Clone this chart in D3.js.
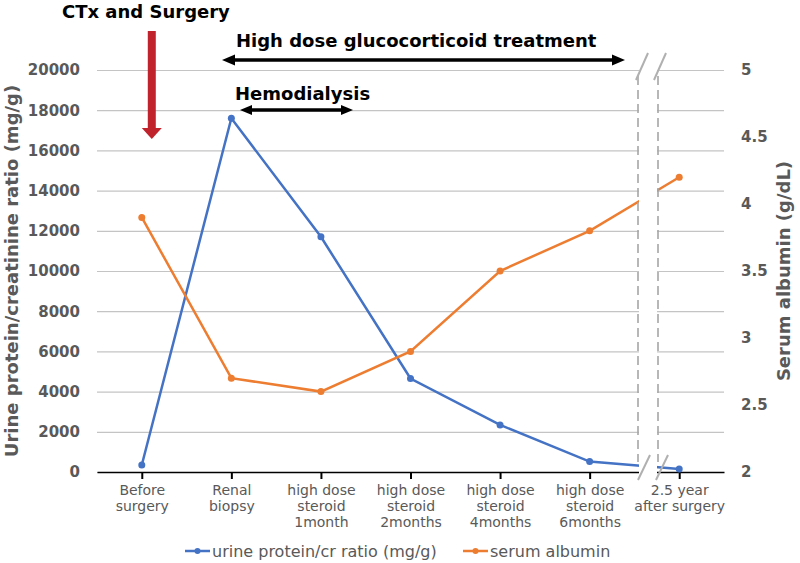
<!DOCTYPE html>
<html>
<head>
<meta charset="utf-8">
<script src="https://cdn.jsdelivr.net/npm/d3@7"></script>
<style>
  body { margin: 0; background: #fff; }
  text { font-family: "DejaVu Sans", sans-serif; }
</style>
</head>
<body>
<script>
// Chart data
var categories = ["Before\nsurgery", "Renal\nbiopsy", "high dose\nsteroid\n1month", "high dose\nsteroid\n2months",
                  "high dose\nsteroid\n4months", "high dose\nsteroid\n6months", "2.5 year\nafter surgery"];
var proteinValues = [350, 17600, 11700, 4650, 2340, 520, 150];
var albuminValues = [3.9, 2.7, 2.6, 2.9, 3.5, 3.8, 4.2];
var leftTicks = [0, 2000, 4000, 6000, 8000, 10000, 12000, 14000, 16000, 18000, 20000];
var rightTicks = [2, 2.5, 3, 3.5, 4, 4.5, 5];

var width = 800;
var height = 563;

// Plot area ("top" is taken by window.top, so prefix these)
var pLeft = 97, pRight = 724, pTop = 70, pBottom = 472;
var grey = "#595959";
var blue = "#4472c4";
var orange = "#ed7d31";

var svg = d3.select("body")
  .append("svg")
  .attr("width", width)
  .attr("height", height);

var x = d3.scalePoint()
  .domain(d3.range(categories.length))
  .range([pLeft, pRight])
  .padding(0.5);

var yL = d3.scaleLinear().domain([0, 20000]).range([pBottom, pTop]);
var yR = d3.scaleLinear().domain([2, 5]).range([pBottom, pTop]);

// Gridlines + left tick labels
var gL = svg.append("g")
  .attr("transform", "translate(" + pLeft + ",0)")
  .call(d3.axisLeft(yL).tickValues(leftTicks).tickFormat(d3.format("d")).tickSize(-(pRight - pLeft)).tickPadding(17));
gL.select(".domain").remove();
gL.selectAll("line").attr("stroke", "#c4c4c4").attr("stroke-width", 1.2);
gL.selectAll("text")
  .attr("fill", grey)
  .attr("font-family", "DejaVu Sans")
  .attr("font-weight", "bold")
  .attr("font-size", "15px");

// Right tick labels
var gR = svg.append("g")
  .attr("transform", "translate(" + pRight + ",0)")
  .call(d3.axisRight(yR).tickValues(rightTicks).tickFormat(d3.format("")).tickSize(0).tickPadding(17));
gR.select(".domain").remove();
gR.selectAll("text")
  .attr("fill", grey)
  .attr("font-family", "DejaVu Sans")
  .attr("font-weight", "bold")
  .attr("font-size", "15px");

// Bottom axis
var gB = svg.append("g")
  .attr("transform", "translate(0," + pBottom + ")")
  .call(d3.axisBottom(x).tickSize(7).tickSizeOuter(0).tickFormat(""));
gB.select(".domain").attr("stroke", "#000").attr("stroke-width", 1.6);
gB.selectAll("line").attr("stroke", "#000").attr("stroke-width", 2);

// Category labels, multi-line
gB.selectAll(".tick").each(function(d) {
  var t = d3.select(this).select("text")
    .attr("y", 23)
    .attr("fill", grey)
    .attr("font-family", "DejaVu Sans")
    .attr("font-size", "14px");
  categories[d].split("\n").forEach(function(line, i) {
    t.append("tspan").attr("x", 0).attr("dy", i == 0 ? 0 : 16).text(line);
  });
});
gB.selectAll("text").attr("dy", null);

// Data lines
var lineL = d3.line().x(function(d, i) { return x(i); }).y(function(d) { return yL(d); });
var lineR = d3.line().x(function(d, i) { return x(i); }).y(function(d) { return yR(d); });

svg.append("path")
  .datum(proteinValues)
  .attr("d", lineL)
  .attr("fill", "none")
  .attr("stroke", blue)
  .attr("stroke-width", 2.5);

svg.append("path")
  .datum(albuminValues)
  .attr("d", lineR)
  .attr("fill", "none")
  .attr("stroke", orange)
  .attr("stroke-width", 2.5);

// Axis break between last two categories
var b1 = 638, b2 = 658;
svg.append("rect")
  .attr("x", b1 + 1).attr("y", 50)
  .attr("width", b2 - b1 - 2).attr("height", 432)
  .attr("fill", "#fff");

[b1, b2].forEach(function(bx) {
  svg.append("line")
    .attr("x1", bx).attr("x2", bx)
    .attr("y1", 76).attr("y2", 462)
    .attr("stroke", "#a6a6a6")
    .attr("stroke-width", 1.6)
    .attr("stroke-dasharray", "9,5");
});

[[636, 80, 648, 53], [654, 80, 666, 53], [638, 480, 650, 455], [656, 480, 668, 455]].forEach(function(s) {
  svg.append("line")
    .attr("x1", s[0]).attr("y1", s[1])
    .attr("x2", s[2]).attr("y2", s[3])
    .attr("stroke", "#b0b0b0")
    .attr("stroke-width", 2);
});

// Markers
svg.selectAll("circle.protein")
  .data(proteinValues)
  .enter()
  .append("circle")
  .attr("class", "protein")
  .attr("cx", function(d, i) { return x(i); })
  .attr("cy", function(d) { return yL(d); })
  .attr("r", 3.5)
  .attr("fill", blue);

svg.selectAll("circle.albumin")
  .data(albuminValues)
  .enter()
  .append("circle")
  .attr("class", "albumin")
  .attr("cx", function(d, i) { return x(i); })
  .attr("cy", function(d) { return yR(d); })
  .attr("r", 3.5)
  .attr("fill", orange);

// Axis titles
svg.append("text")
  .attr("transform", "translate(18," + ((pTop + pBottom) / 2) + ") rotate(-90)")
  .attr("text-anchor", "middle")
  .attr("fill", grey)
  .attr("font-weight", "bold")
  .attr("font-size", "18px")
  .text("Urine protein/creatinine ratio (mg/g)");

svg.append("text")
  .attr("transform", "translate(790," + ((pTop + pBottom) / 2) + ") rotate(-90)")
  .attr("text-anchor", "middle")
  .attr("fill", grey)
  .attr("font-weight", "bold")
  .attr("font-size", "18px")
  .text("Serum albumin (g/dL)");

// Annotations
svg.append("text")
  .attr("x", 62).attr("y", 18)
  .attr("font-weight", "bold")
  .attr("font-size", "18px")
  .attr("fill", "#000")
  .text("CTx and Surgery");

var redX = x(0) + 10;
svg.append("rect")
  .attr("x", redX - 4).attr("y", 31)
  .attr("width", 8).attr("height", 98)
  .attr("fill", "#c0232c");
svg.append("path")
  .attr("d", "M" + (redX - 10) + ",128 L" + (redX + 10) + ",128 L" + redX + ",139 Z")
  .attr("fill", "#c0232c");

function doubleArrow(x1, x2, y, head, half) {
  svg.append("line")
    .attr("x1", x1 + head - 2).attr("x2", x2 - head + 2)
    .attr("y1", y).attr("y2", y)
    .attr("stroke", "#000")
    .attr("stroke-width", 3.5);
  svg.append("path")
    .attr("d", "M" + x1 + "," + y + " L" + (x1 + head) + "," + (y - half) + " L" + (x1 + head) + "," + (y + half) + " Z")
    .attr("fill", "#000");
  svg.append("path")
    .attr("d", "M" + x2 + "," + y + " L" + (x2 - head) + "," + (y - half) + " L" + (x2 - head) + "," + (y + half) + " Z")
    .attr("fill", "#000");
}

svg.append("text")
  .attr("x", 236).attr("y", 47)
  .attr("font-weight", "bold")
  .attr("font-size", "18px")
  .attr("fill", "#000")
  .text("High dose glucocorticoid treatment");
doubleArrow(222, 625, 60, 13, 5.5);

svg.append("text")
  .attr("x", 235).attr("y", 100)
  .attr("font-weight", "bold")
  .attr("font-size", "18px")
  .attr("fill", "#000")
  .text("Hemodialysis");
doubleArrow(240, 353, 110, 12, 5);

// Legend
var legend = [["urine protein/cr ratio (mg/g)", blue, 185], ["serum albumin", orange, 463]];
legend.forEach(function(l) {
  var g = svg.append("g").attr("transform", "translate(" + l[2] + ",551)");
  g.append("line").attr("x1", 0).attr("x2", 25).attr("stroke", l[1]).attr("stroke-width", 2.5);
  g.append("circle").attr("cx", 12.5).attr("r", 3).attr("fill", l[1]);
  g.append("text")
    .attr("x", 27).attr("y", 6)
    .attr("fill", grey)
    .attr("font-size", "16px")
    .text(l[0]);
});
</script>
</body>
</html>
